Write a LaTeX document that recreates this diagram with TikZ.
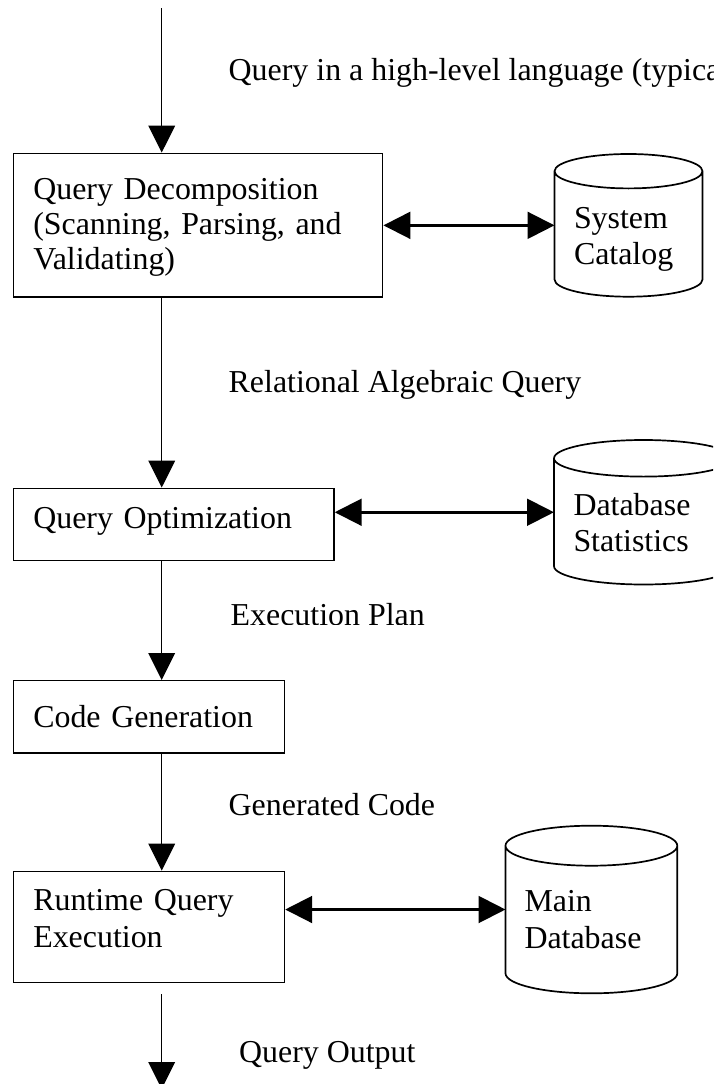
\documentclass[tikz,border=0pt]{standalone}
\usepackage{fontspec}
\setmainfont{Liberation Serif}
\usetikzlibrary{arrows.meta,calc}

% Outline of a database drum drawn around a (borderless) rectangle node:
% #1 = node name, #2 = vertical radius of the end ellipses
\newcommand\drumoutline[2]{%
  \draw[drum] let \p1=(#1.north west), \p2=(#1.south east), \n1={(\x2-\x1)/2} in
    (\x1,\y1-#2) -- (\x1,\y2+#2)
    arc[start angle=180,end angle=360,x radius=\n1,y radius=#2]
    -- (\x2,\y1-#2)
    (\x1+\n1,\y1-#2) ellipse[x radius=\n1,y radius=#2];
}

\tikzset{
  txtfont/.style={font=\fontsize{31.9pt}{36.5pt}\selectfont},
  box/.style={txtfont, draw, line width=1.4pt, rectangle, inner xsep=20pt,
    inner ysep=0pt, align=left},
  store/.style={txtfont, rectangle, inner ysep=0pt, outer sep=0pt, align=left},
  drum/.style={line width=1.7pt},
  lbl/.style={txtfont, anchor=base west, inner sep=0pt},
  tip/.tip={Triangle[length=27pt,width=26.7pt]},
  flow/.style={line width=1.3pt, -tip},
  dbl/.style={line width=3pt, tip-tip},
}

\begin{document}
\begin{tikzpicture}[x=1pt, y=-1pt]
  \clip (0,0) rectangle (713,1084);

  % processing stages
  \node[box, text width=329.4pt, minimum width=369.4pt, minimum height=143.7pt,
        text height=0pt, text depth=51.7pt, font=\fontsize{31.9pt}{35pt}\selectfont]
    (qd) at (198,225.15) {Query Decomposition\\(Scanning, Parsing, and\\Validating)};
  \node[box, text width=280.7pt, minimum width=320.7pt, minimum height=72.4pt,
        text height=7.6pt, text depth=0pt]
    (qo) at (173.65,524.5) {Query Optimization};
  \node[box, text width=231pt, minimum width=271pt, minimum height=72.3pt,
        text height=21.3pt, text depth=0pt]
    (cg) at (148.8,716.85) {Code Generation};
  \node[box, text width=231.2pt, minimum width=271.2pt, minimum height=111.4pt,
        text height=0pt, text depth=32.6pt]
    (qe) at (148.9,927) {Runtime Query\\Execution};

  % data stores
  \node[store, inner xsep=19.5pt, text width=109pt, minimum width=148pt,
        minimum height=142.7pt, text height=5.9pt, text depth=0pt]
    (cat) at (628.5,225.35) {System\\Catalog};
  \node[store, inner xsep=19.5pt, text width=140pt, minimum width=179pt,
        minimum height=144.5pt, text height=5.5pt, text depth=0pt]
    (stats) at (643.5,512.25) {Database\\Statistics};
  \node[store, inner xsep=19pt, text width=133.8pt, minimum width=171.8pt,
        minimum height=167.6pt, text height=4.4pt, text depth=0pt]
    (maindb) at (591.4,909.5) {Main\\Database};
  \drumoutline{cat}{17.2pt}
  \drumoutline{stats}{18.3pt}
  \drumoutline{maindb}{20pt}

  % main flow
  \coordinate (in) at (161.7,8);
  \coordinate (out) at (161.7,1089);
  \path (qe.south -| in) ++(0,10.6) coordinate (outstart);
  \draw[flow] (in) -- (in |- qd.north);
  \draw[flow] (qd.south -| in) -- (qo.north -| in);
  \draw[flow] (qo.south -| in) -- (cg.north -| in);
  \draw[flow] (cg.south -| in) -- (qe.north -| in);
  \draw[flow] (outstart) -- (out);

  % exchanges with the stores
  \draw[dbl] (qd.east |- cat.west) -- (cat.west);
  \draw[dbl] (qo.east |- stats.west) -- (stats.west);
  \draw[dbl] (qe.east |- maindb.west) -- (maindb.west);

  % flow labels
  \node[lbl] (lq) at (228.5,80) {Query in a high-level language (typica};
  \node[lbl] (lra) at (228.5,392) {Relational Algebraic Query};
  \begin{scope}
    \clip (0,0) rectangle (713,624);
    \node[lbl] (lep) at (230.5,625) {Execution Plan};
  \end{scope}
  \node[lbl] (lgc) at (228.5,815) {Generated Code};
  \node[lbl] (lqo) at (239,1062) {Query Output};
\end{tikzpicture}
\end{document}
